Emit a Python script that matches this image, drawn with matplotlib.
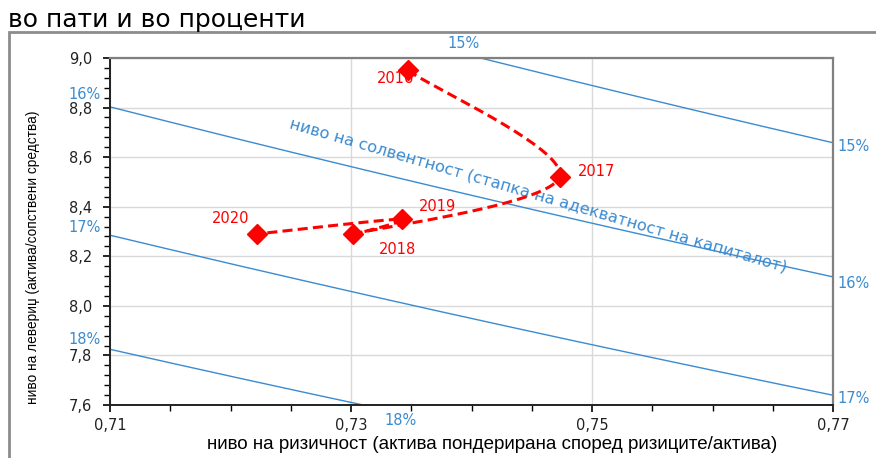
import matplotlib.pyplot as plt
import numpy as np
from matplotlib.patches import Rectangle
from matplotlib.ticker import MultipleLocator, FixedLocator, FuncFormatter

# data
years = ["2016", "2017", "2018", "2019", "2020"]
risk = [0.7347, 0.7473, 0.7302, 0.7342, 0.7222]
leverage = [8.95, 8.52, 8.29, 8.35, 8.29]
label_offsets = [(-9, -6), (27, 4), (32, -11), (26, 9), (-19, 11)]

car_levels = [0.15, 0.16, 0.17, 0.18]
x_ticks = [0.71, 0.73, 0.75, 0.77]

xmin, xmax = 0.71, 0.77
ymin, ymax = 7.6, 9.0

blue = "#3b8bd0"
red = "#ff0000"
narrow = ["Liberation Sans", "DejaVu Sans"]


def smooth_path(xs, ys, w, h, n=40):
    # Excel-like smoothed line (Bezier through points)
    px = [(x - xmin) / (xmax - xmin) * w for x in xs]
    py = [(y - ymin) / (ymax - ymin) * h for y in ys]
    pts = np.array(list(zip(px, py)))
    pts_ext = np.vstack([pts[0], pts, pts[-1]])
    out = []
    for i in range(1, len(pts_ext) - 2):
        p0, p1, p2, p3 = pts_ext[i - 1], pts_ext[i], pts_ext[i + 1], pts_ext[i + 2]
        c1 = p1 + (p2 - p0) / 6
        c2 = p2 - (p3 - p1) / 6
        t = np.linspace(0, 1, n)[:, None]
        seg = (1 - t) ** 3 * p1 + 3 * (1 - t) ** 2 * t * c1 + 3 * (1 - t) * t ** 2 * c2 + t ** 3 * p2
        out.append(seg)
    out = np.vstack(out)
    sx = xmin + out[:, 0] / w * (xmax - xmin)
    sy = ymin + out[:, 1] / h * (ymax - ymin)
    return sx, sy


fig = plt.figure(figsize=(8.76, 4.58), dpi=100)
ax = fig.add_axes([0.1256, 0.1157, 0.8254, 0.7577])

# outer frame and title
fig.patches.append(Rectangle((0.010, -0.05), 1.1, 0.98, transform=fig.transFigure,
                             fill=False, edgecolor="#8c8c8c", linewidth=2))
fig.text(0.009, 0.942, "во пати и во проценти", fontsize=18, color="black",
         ha="left", va="baseline")

# iso capital adequacy lines: leverage = 1 / (car * risk)
r = np.linspace(xmin, xmax, 200)
for c in car_levels:
    ax.plot(r, 1 / (c * r), color=blue, linewidth=1.0, zorder=2)

ax.set_xlim(xmin, xmax)
ax.set_ylim(ymin, ymax)

# smoothed dashed path and markers
sx, sy = smooth_path(risk, leverage, 723, 347)
ax.plot(sx, sy, color=red, linewidth=2.2, linestyle=(0, (3.3, 1.7)), zorder=4)
ax.plot(risk, leverage, linestyle="none", marker="D", markersize=10.5,
        color=red, zorder=5)
for yr, x, y, off in zip(years, risk, leverage, label_offsets):
    ax.annotate(yr, (x, y), xytext=off, textcoords="offset points",
                ha="center", va="center", color=red, fontsize=10.5, zorder=3)

# percentage labels
pct = dict(color=blue, fontsize=10.5, clip_on=False)
ax.text(0.7393, 9.06, "15%", ha="center", va="center", **pct)
ax.text(0.7704, 8.641, "15%", ha="left", va="center", **pct)
ax.text(0.7092, 8.851, "16%", ha="right", va="center", **pct)
ax.text(0.7704, 8.092, "16%", ha="left", va="center", **pct)
ax.text(0.7092, 8.318, "17%", ha="right", va="center", **pct)
ax.text(0.7704, 7.628, "17%", ha="left", va="center", **pct)
ax.text(0.7092, 7.866, "18%", ha="right", va="center", **pct)
ax.text(0.7341, 7.539, "18%", ha="center", va="center", **pct)

ax.text(0.7455, 8.445, "ниво на солвентност (стапка на адекватност на капиталот)",
        rotation=-16.2, rotation_mode="anchor", ha="center", va="center",
        color=blue, fontsize=11.6)

# axes styling
ax.xaxis.set_major_locator(FixedLocator(x_ticks))
ax.xaxis.set_minor_locator(MultipleLocator(0.005))
ax.yaxis.set_major_locator(MultipleLocator(0.2))
ax.yaxis.set_minor_locator(MultipleLocator(0.04))
ax.xaxis.set_major_formatter(FuncFormatter(lambda v, p: f"{v:.2f}".replace(".", ",")))
ax.yaxis.set_major_formatter(FuncFormatter(lambda v, p: f"{v:.1f}".replace(".", ",")))
ax.tick_params(axis="both", which="major", direction="out", length=5, width=1.2,
               labelsize=10.5, labelcolor="#222222")
ax.tick_params(axis="x", which="major", pad=4)
ax.tick_params(axis="y", which="major", pad=8)
ax.tick_params(axis="both", which="minor", direction="out", length=4, width=1.0)
ax.grid(True, which="major", color="#d9d9d9", linewidth=1.0, zorder=0)
ax.set_axisbelow(True)

for side in ["left", "bottom"]:
    ax.spines[side].set_color("#222222")
    ax.spines[side].set_linewidth(1.4)
for side in ["top", "right"]:
    ax.spines[side].set_color("#808080")
    ax.spines[side].set_linewidth(1.6)

ax.set_xlabel("ниво на ризичност (актива пондерирана според ризиците/актива)",
              family=narrow, fontsize=13.5)
ax.set_ylabel("ниво на левериџ (актива/сопствени средства)",
              family=narrow, fontsize=9.8)
ax.xaxis.set_label_coords(0.528, -0.088)
ax.yaxis.set_label_coords(-0.097, 0.427)

fig.savefig("out.png", dpi=100)
